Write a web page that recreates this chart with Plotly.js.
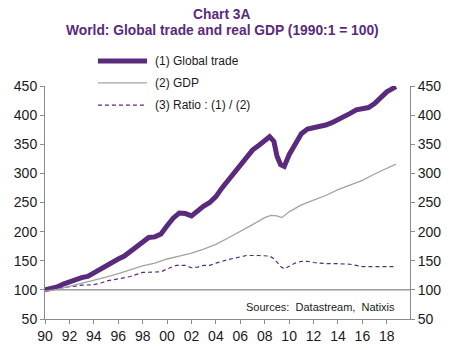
<!DOCTYPE html>
<html>
<head>
<meta charset="utf-8">
<script src="https://cdn.plot.ly/plotly-3.0.1.min.js"></script>
<style>html,body{margin:0;padding:0;background:#fff;}#chart{width:468px;height:350px;}</style>
</head>
<body>
<div id="chart"></div>
<script>
// ---- Data (1990:1 = 100) ----
var tradeYears = [1990.0,1990.5,1991.0,1991.5,1992.0,1992.5,1993.0,1993.5,1994.0,1994.5,1995.0,1995.5,1996.0,1996.5,1997.0,1997.5,1998.0,1998.5,1999.0,1999.5,2000.0,2000.5,2001.0,2001.5,2002.0,2002.5,2003.0,2003.5,2004.0,2004.5,2005.0,2005.5,2006.0,2006.5,2007.0,2007.5,2008.0,2008.4,2008.75,2009.0,2009.3,2009.6,2010.0,2010.5,2011.0,2011.5,2012.0,2012.5,2013.0,2013.5,2014.0,2014.5,2015.0,2015.5,2016.0,2016.5,2017.0,2017.5,2018.0,2018.5,2018.75];
var trade = [100,102,105,110,114,117,121,123,129,135,142,149,153,158,166,174,184,190,191,196,210,223,232,231,227,236,244,250,260,275,288,300,315,325,340,348,356,363,355,330,315,312,332,352,368,376,378,380,383,387,392,396,403,409,410,413,420,430,440,446,449];

var gdpYears = [1990.0,1991.0,1992.0,1993.0,1994.0,1995.0,1996.0,1997.0,1998.0,1999.0,2000.0,2001.0,2002.0,2003.0,2004.0,2005.0,2006.0,2007.0,2008.0,2008.5,2009.0,2009.4,2010.0,2010.5,2011.0,2012.0,2013.0,2014.0,2015.0,2016.0,2017.0,2018.0,2018.75];
var gdp = [98,101,106,111,116,122,128,135,141,146,153,158,163,170,178,189,200,212,224,228,227,224,234,240,246,254,262,272,280,288,299,308,316];

var ratioYears = [1990.0,1991.0,1992.0,1993.0,1994.0,1994.5,1995.0,1996.0,1997.0,1998.0,1999.0,1999.5,2000.0,2000.75,2001.5,2002.0,2002.5,2003.0,2003.5,2004.0,2005.0,2006.0,2006.5,2007.5,2008.4,2008.8,2009.3,2009.6,2010.0,2010.5,2011.0,2011.5,2012.0,2012.5,2013.0,2014.0,2015.0,2015.5,2016.0,2017.0,2018.0,2018.75];
var ratio = [100,103,105,108,109,111,115,119,123,130,131,131,136,142,142,138,139,142,142,146,152,157,159,159,158,153,140,136,140,146,149,149,147,146,145,145,144,142,140,140,140,140];

var xTickVals = [1990,1992,1994,1996,1998,2000,2002,2004,2006,2008,2010,2012,2014,2016,2018];
var xTickText = ['90','92','94','96','98','00','02','04','06','08','10','12','14','16','18'];
var yTickVals = [50,100,150,200,250,300,350,400,450];
var seriesNames = ['(1) Global trade','(2) GDP','(3) Ratio : (1) / (2)'];
var titleLines = ['Chart 3A','World: Global trade and real GDP (1990:1 = 100)'];
var sourceText = 'Sources:  Datastream,  Natixis';

var purple = '#5a2a7c';
var grey = '#a3a3a3';
var textCol = '#1a1a1a';
var fam = 'Liberation Sans, Arial, sans-serif';

var seriesStyles = [
  {color: purple, width: 5},
  {color: grey, width: 1.3},
  {color: purple, width: 1.2, dash: '4px,3px'}
];

var traces = [
  {x: tradeYears, y: trade, name: seriesNames[0], mode: 'lines', line: seriesStyles[0], yaxis: 'y'},
  {x: gdpYears, y: gdp, name: seriesNames[1], mode: 'lines', line: seriesStyles[1], yaxis: 'y2'},
  {x: ratioYears, y: ratio, name: seriesNames[2], mode: 'lines', line: seriesStyles[2], yaxis: 'y'}
];

var axisFont = {family: fam, size: 14, color: textCol};

// Manual legend (longer line samples as in the reference)
var legendRowsY = [1.107, 1.013, 0.918];
var legendShapes = seriesStyles.map(function (s, i) {
  return {type: 'line', xref: 'paper', yref: 'paper', x0: 0.145, x1: 0.2795, y0: legendRowsY[i], y1: legendRowsY[i], line: s};
});
var legendLabels = seriesNames.map(function (n, i) {
  return {text: n, xref: 'paper', yref: 'paper', x: 0.296, y: legendRowsY[i], xanchor: 'left', yanchor: 'middle',
          showarrow: false, font: {family: fam, size: 12, color: textCol}};
});

var layout = {
  width: 468, height: 350,
  margin: {l: 45, r: 58, t: 86, b: 31},
  paper_bgcolor: '#ffffff', plot_bgcolor: '#ffffff',
  showlegend: false,
  xaxis: {
    range: [1990, 2019.9], tickvals: xTickVals, ticktext: xTickText,
    showgrid: false, zeroline: false, showline: true, linecolor: '#8c8c8c', linewidth: 1,
    ticks: 'outside', ticklen: 4, tickcolor: '#8c8c8c', tickfont: axisFont
  },
  yaxis: {
    range: [50, 450], tickvals: yTickVals,
    showgrid: false, zeroline: false, showline: true, linecolor: '#8c8c8c', linewidth: 1,
    ticks: 'outside', ticklen: 4, tickcolor: '#8c8c8c', tickfont: axisFont
  },
  yaxis2: {
    range: [50, 450], tickvals: yTickVals, overlaying: 'y', side: 'right',
    showgrid: false, zeroline: false, showline: true, linecolor: '#8c8c8c', linewidth: 1,
    ticks: 'outside', ticklen: 4, tickcolor: '#8c8c8c', tickfont: axisFont
  },
  shapes: [
    {type: 'line', xref: 'paper', x0: 0, x1: 1, yref: 'y', y0: 100, y1: 100, line: {color: '#6a6a6a', width: 1}, layer: 'below'}
  ].concat(legendShapes),
  annotations: [
    {text: '<b>' + titleLines[0] + '</b>', xref: 'paper', yref: 'paper', x: 0.485, y: 1.305, xanchor: 'center', yanchor: 'middle',
     showarrow: false, font: {family: fam, size: 13.8, color: purple}},
    {text: '<b>' + titleLines[1] + '</b>', xref: 'paper', yref: 'paper', x: 0.485, y: 1.240, xanchor: 'center', yanchor: 'middle',
     showarrow: false, font: {family: fam, size: 13.8, color: purple}},
    {text: sourceText, xref: 'paper', yref: 'y', x: 0.755, y: 70, xanchor: 'center', yanchor: 'middle', showarrow: false,
     font: {family: fam, size: 11, color: textCol}}
  ].concat(legendLabels)
};

Plotly.newPlot('chart', traces, layout, {displayModeBar: false, staticPlot: true});
</script>
</body>
</html>
